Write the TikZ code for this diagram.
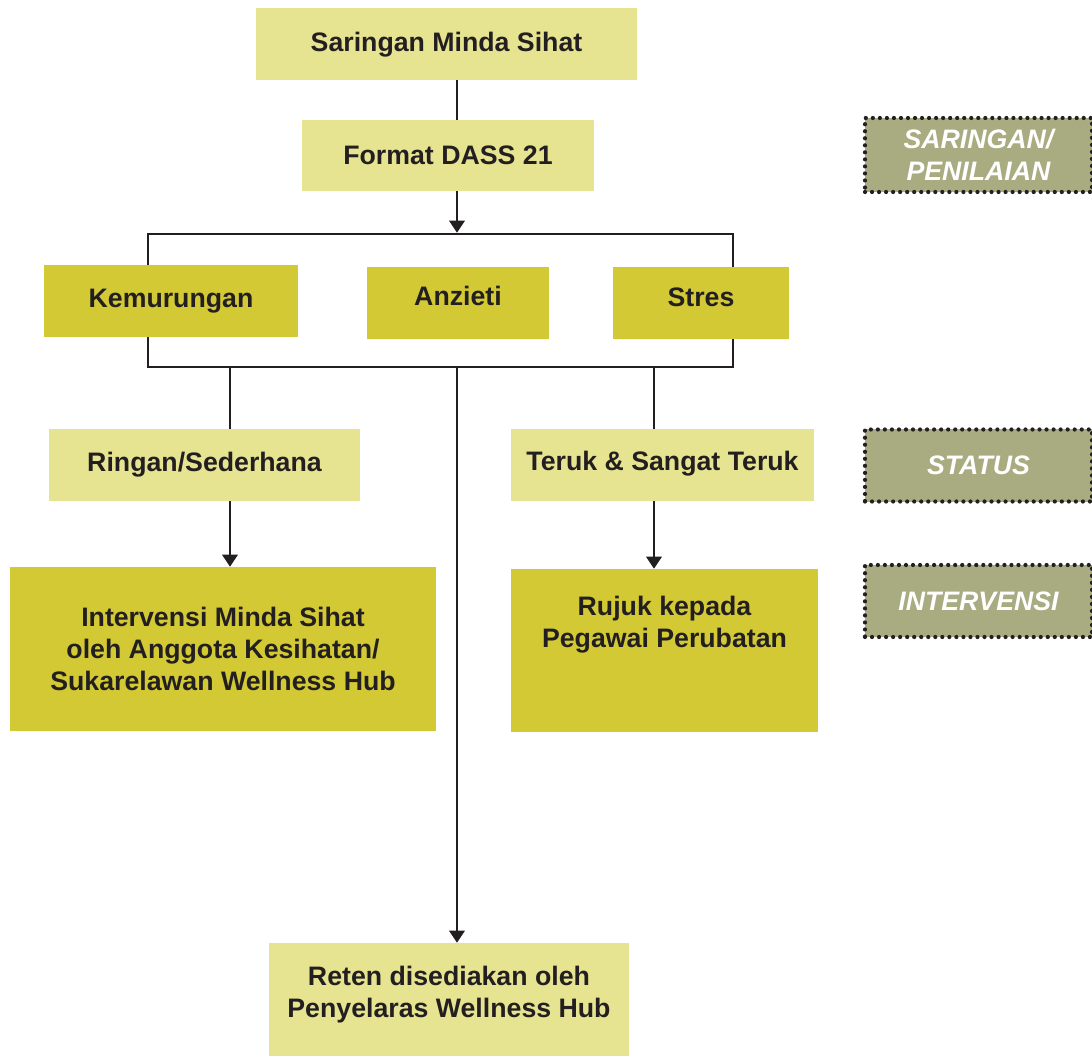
\documentclass[tikz,border=0pt]{standalone}
\usepackage{fontspec}
\setmainfont{Liberation Sans}
\usetikzlibrary{arrows.meta}
\definecolor{boxLight}{RGB}{230,227,145}
\definecolor{boxDark}{RGB}{210,201,53}
\definecolor{tagGreen}{RGB}{168,172,128}
\definecolor{inkDark}{RGB}{35,31,32}

\begin{document}
\begin{tikzpicture}[
  font=\fontsize{19}{23}\selectfont\bfseries,
  light/.style={fill=boxLight, text=inkDark, align=center, inner sep=0pt,
              minimum height=1.8cm},
  dark/.style={fill=boxDark, text=inkDark, align=center, inner sep=0pt,
              minimum height=1.8cm},
  tag/.style={fill=tagGreen, text=white, align=center, inner sep=0pt,
              font=\fontsize{19}{23}\selectfont\bfseries\itshape,
              draw=inkDark, line width=3pt, line cap=round,
              dash pattern=on 0pt off 5pt,
              minimum width=5.675cm, minimum height=1.8cm},
  link/.style={line width=1.8pt, draw=inkDark},
  arrow/.style={-{Triangle[length=3mm,width=3.8mm]}, line width=1.8pt, draw=inkDark}
]
\useasboundingbox (0,0) rectangle (27.3,-26.45);

% bracket round the three scales
\node[link, draw, minimum width=14.625cm, minimum height=3.325cm] (grp) at (11.0125,-7.5125) {};

\node[light, minimum width=9.525cm, text depth=0.1cm] (top) at (11.1625,-1.1) {Saringan Minda Sihat};
\node[light, minimum width=7.3cm, minimum height=1.775cm] (fmt) at (11.2,-3.8875) {Format DASS 21};

\node[dark, minimum width=6.35cm] (kem) at (4.275,-7.525) {Kemurungan};
\node[dark, minimum width=4.55cm, text depth=0.35cm] (anz) at (11.45,-7.575) {Anzieti};
\node[dark, minimum width=4.4cm, text depth=0.3cm] (str) at (17.525,-7.575) {Stres};

\node[light, minimum width=7.775cm] (ring) at (5.1125,-11.625) {Ringan/Sederhana};
\node[light, minimum width=7.575cm, text depth=0.2cm] (teruk) at (16.5625,-11.625) {Teruk \& Sangat Teruk};

\node[dark, minimum width=10.65cm, minimum height=4.1cm] (interv) at (5.575,-16.225)
  {Intervensi Minda Sihat\\oleh Anggota Kesihatan/\\Sukarelawan Wellness Hub};
\node[dark, minimum width=7.675cm, minimum height=4.075cm, text depth=1.45cm] (rujuk) at (16.6125,-16.2625)
  {Rujuk kepada\\Pegawai Perubatan};

\node[light, minimum width=9cm, minimum height=2.825cm, text depth=0.4cm] (reten) at (11.225,-24.9875)
  {Reten disediakan oleh\\Penyelaras Wellness Hub};

\node[tag, minimum height=1.85cm] (tsar) at (24.4625,-3.875) {SARINGAN/\\PENILAIAN};
\node[tag] (tstat) at (24.4625,-11.6375) {STATUS};
\node[tag] (tint) at (24.4625,-15.025) {INTERVENSI};

\coordinate (spine) at (11.425,0);
\coordinate (lbr) at (5.75,0);
\coordinate (rbr) at (16.35,0);

\draw[link] (top.south -| spine) -- (fmt.north -| spine);
\draw[arrow] (fmt.south -| spine) -- (grp.north -| spine);
\draw[link] (grp.south -| lbr) -- (ring.north -| lbr);
\draw[link] (grp.south -| rbr) -- (teruk.north -| rbr);
\draw[arrow] (ring.south -| lbr) -- (interv.north -| lbr);
\draw[arrow] (teruk.south -| rbr) -- (rujuk.north -| rbr);
\draw[arrow] (grp.south -| spine) -- (reten.north -| spine);
\end{tikzpicture}
\end{document}
